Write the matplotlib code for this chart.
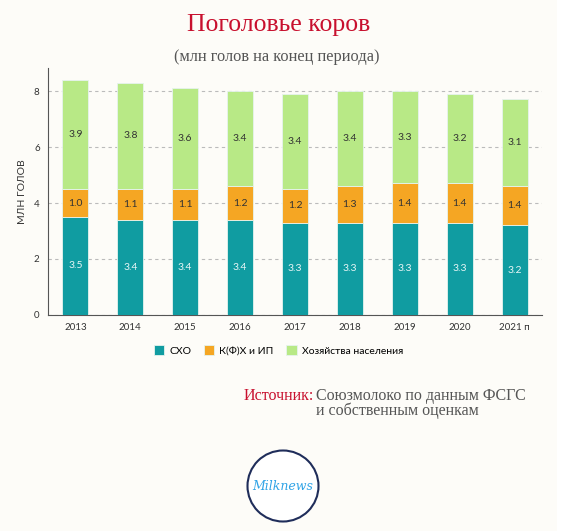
import numpy as np
import matplotlib.pyplot as plt
from matplotlib.patches import Circle, Rectangle

years = ['2013', '2014', '2015', '2016', '2017', '2018', '2019', '2020', '2021 п']
sxo = [3.5, 3.4, 3.4, 3.4, 3.3, 3.3, 3.3, 3.3, 3.2]
kfh = [1.0, 1.1, 1.1, 1.2, 1.2, 1.3, 1.4, 1.4, 1.4]
hh = [3.9, 3.8, 3.6, 3.4, 3.4, 3.4, 3.3, 3.2, 3.1]
series_names = ['СХО', 'К(Ф)Х и ИП', 'Хозяйства населения']
colors = ['#109ca1', '#f5a623', '#b8e986']
label_colors = ['#e8f6f6', '#333333', '#333333']

bg = '#fdfcf8'
fig = plt.figure(figsize=(5.86, 5.31), dpi=100, facecolor=bg)
fig.patches.append(Rectangle((0.951, 0), 0.049, 1, transform=fig.transFigure,
                             facecolor='white', edgecolor='none', zorder=-1))

ax = fig.add_axes([0.0819, 0.4068, 0.843, 0.465])
ax.set_facecolor(bg)

x = np.arange(len(years))
bottom = np.zeros(len(years))
for vals, col, lc, name in zip([sxo, kfh, hh], colors, label_colors, series_names):
    vals = np.array(vals)
    ax.bar(x, vals, width=0.475, bottom=bottom, color=col,
           edgecolor='#e6f3ee', linewidth=0.6, label=name, zorder=3)
    for xi, v, bt in zip(x, vals, bottom):
        ax.text(xi, bt + v / 2, f'{v:.1f}', ha='center', va='center',
                fontsize=7.5, color=lc, family='Lato', zorder=4)
    bottom = bottom + vals

ax.set_xlim(-0.5, 8.5)
ax.set_ylim(0, 8.82)
ax.set_yticks([0, 2, 4, 6, 8])
ax.set_xticks(x)
ax.set_xticklabels(years)
ax.tick_params(length=0, labelsize=7, colors='#333333', pad=6)
for lab in ax.get_xticklabels() + ax.get_yticklabels():
    lab.set_family('Lato')
ax.yaxis.grid(True, linestyle=(0, (3, 3)), color='#bbbbbb', linewidth=0.8, zorder=0)
ax.set_axisbelow(True)
for s in ['top', 'right']:
    ax.spines[s].set_visible(False)
ax.spines['left'].set_color('#555555')
ax.spines['bottom'].set_color('#555555')
ax.set_ylabel('МЛН ГОЛОВ', fontsize=7.5, family='Lato', color='#333333', labelpad=5)

fig.legend(loc='center', bbox_to_anchor=(0.475, 0.34), ncol=3, frameon=False,
           prop={'family': 'Lato', 'size': 7.5}, handlelength=1.0, handleheight=1.0,
           columnspacing=1.2, handletextpad=0.5)

fig.text(0.475, 0.953, 'Поголовье коров', ha='center', va='center',
         fontsize=18.5, color='#c8102e', family='Liberation Serif')
fig.text(0.473, 0.892, '(млн голов на конец периода)', ha='center', va='center',
         fontsize=11.8, color='#555555', family='Liberation Serif')

fig.text(0.535, 0.255, 'Источник:', ha='right', va='center',
         fontsize=11.5, color='#c8102e', family='Liberation Serif')
fig.text(0.54, 0.255, 'Союзмолоко по данным ФСГС', ha='left', va='center',
         fontsize=11.5, color='#555555', family='Liberation Serif')
fig.text(0.54, 0.226, 'и собственным оценкам', ha='left', va='center',
         fontsize=11.5, color='#555555', family='Liberation Serif')

# logo
cx, cy, r = 283, 531 - 486, 35.5
fig.patches.append(Circle((cx, cy), r, transform=None, facecolor='white',
                          edgecolor='#1f2d5a', linewidth=1.5))
fig.text(cx / 586, cy / 531, 'Milknews', ha='center', va='center', fontsize=9,
         color='#2fa3e6', style='italic', family='DejaVu Serif')

fig.savefig('out.png', dpi=100, facecolor=bg)
